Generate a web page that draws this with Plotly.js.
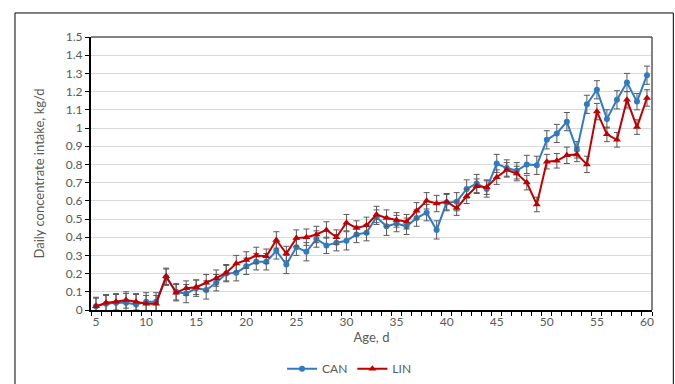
<!DOCTYPE html>
<html><head><meta charset="utf-8">
<script src="https://cdn.plot.ly/plotly-3.0.1.min.js"></script>
<style>html,body{margin:0;padding:0;background:#fff;}#chart{width:675px;height:384px;}</style>
</head><body><div id="chart"></div>
<script>
const age = [];
for (let d = 5; d <= 60; d++) age.push(d);

const canMean = [0.02,0.035,0.04,0.04,0.03,0.045,0.045,0.18,0.10,0.09,0.12,0.11,0.15,0.20,0.205,0.24,0.265,0.265,0.325,0.25,
0.345,0.32,0.39,0.355,0.37,0.38,0.415,0.425,0.51,0.46,0.475,0.46,0.505,0.535,0.44,0.59,0.595,0.665,0.695,0.665,
0.805,0.78,0.765,0.80,0.795,0.935,0.97,1.035,0.88,1.13,1.21,1.05,1.155,1.25,1.145,1.29];
const canErr = [0.05,0.045,0.045,0.05,0.055,0.05,0.05,0.045,0.045,0.05,0.045,0.05,0.045,0.045,0.045,0.045,0.045,0.045,0.045,0.05,
0.045,0.05,0.045,0.045,0.045,0.05,0.045,0.045,0.04,0.05,0.045,0.045,0.045,0.045,0.05,0.045,0.05,0.05,0.05,0.045,
0.05,0.045,0.045,0.05,0.05,0.05,0.05,0.05,0.045,0.05,0.05,0.05,0.05,0.05,0.045,0.05];
const linMean = [0.02,0.04,0.045,0.055,0.045,0.035,0.035,0.185,0.095,0.12,0.125,0.15,0.175,0.205,0.255,0.275,0.30,0.295,0.385,0.31,
0.395,0.40,0.415,0.44,0.40,0.48,0.45,0.465,0.525,0.505,0.495,0.485,0.545,0.60,0.585,0.595,0.56,0.625,0.68,0.675,
0.73,0.77,0.75,0.70,0.58,0.815,0.82,0.85,0.855,0.80,1.09,0.965,0.935,1.155,1.005,1.165];
const linErr = [0.045,0.045,0.045,0.045,0.045,0.045,0.045,0.045,0.045,0.04,0.04,0.045,0.045,0.045,0.045,0.045,0.045,0.04,0.045,0.04,
0.045,0.045,0.045,0.045,0.04,0.045,0.04,0.045,0.045,0.045,0.04,0.04,0.045,0.045,0.045,0.045,0.04,0.04,0.04,0.04,
0.04,0.04,0.04,0.04,0.04,0.04,0.04,0.045,0.04,0.045,0.045,0.04,0.04,0.045,0.04,0.045];
const xTicks = [5,10,15,20,25,30,35,40,45,50,55,60];
const yTicks = [0,0.1,0.2,0.3,0.4,0.5,0.6,0.7,0.8,0.9,1,1.1,1.2,1.3,1.4,1.5];

const errStyle = {type:'data', visible:true, color:'#595959', thickness:1, width:3};

const traces = [
  {x: age, y: canMean, name: 'CAN', type: 'scatter', mode: 'lines+markers',
   line: {color: '#2E7BC4', width: 2}, marker: {color: '#2E7BC4', symbol: 'circle', size: 6},
   error_y: Object.assign({array: canErr}, errStyle)},
  {x: age, y: linMean, name: 'LIN', type: 'scatter', mode: 'lines+markers',
   line: {color: '#C00000', width: 2}, marker: {color: '#C00000', symbol: 'triangle-up', size: 7},
   error_y: Object.assign({array: linErr}, errStyle)}
];

const layout = {
  width: 675, height: 384,
  margin: {l: 91, r: 23, t: 37, b: 74},
  paper_bgcolor: '#fff', plot_bgcolor: '#fff',
  font: {family: 'Lato, "Liberation Sans", sans-serif', color: '#595959', size: 12},
  showlegend: true,
  legend: {orientation: 'h', xref: 'paper', x: 0.46, xanchor: 'center', yref: 'container', y: 0.04, yanchor: 'middle',
           font: {size: 12, color: '#595959'}, traceorder: 'normal'},
  xaxis: {
    range: [4.5, 60.5], tickmode: 'array', tickvals: xTicks, ticks: '', automargin: false,
    showgrid: false, zeroline: false, showline: true, linecolor: '#000', linewidth: 2,
    tickfont: {size: 12, color: '#595959'},
    minor: {tick0: 4.5, dtick: 1, ticks: 'outside', ticklen: 4, tickcolor: '#000', showgrid: false},
    title: {text: 'Age, d', font: {size: 13, color: '#595959'}, standoff: 4}
  },
  yaxis: {
    range: [0, 1.5], tickmode: 'array', tickvals: yTicks, ticks: 'outside', ticklen: 4, tickcolor: '#000', automargin: false,
    showgrid: true, gridcolor: '#d9d9d9', gridwidth: 1, zeroline: false,
    showline: true, linecolor: '#000', linewidth: 2,
    tickfont: {size: 12, color: '#595959'},
    title: {text: 'Daily concentrate intake, kg/d', font: {size: 13, color: '#595959'}, standoff: 18}
  },
  shapes: [
    {type: 'line', xref: 'paper', yref: 'paper', x0: 0, x1: 1, y0: 1, y1: 1, line: {color: '#595959', width: 1.5}},
    {type: 'line', xref: 'paper', yref: 'paper', x0: 1, x1: 1, y0: 0, y1: 1, line: {color: '#595959', width: 1.5}},
    {type: 'rect', xref: 'paper', yref: 'paper', x0: -0.1355, x1: 1.038, y0: -0.45, y1: 1.088,
     line: {color: '#000', width: 1}, layer: 'below'}
  ]
};

Plotly.newPlot('chart', traces, layout, {displayModeBar: false, staticPlot: true});
</script></body></html>
